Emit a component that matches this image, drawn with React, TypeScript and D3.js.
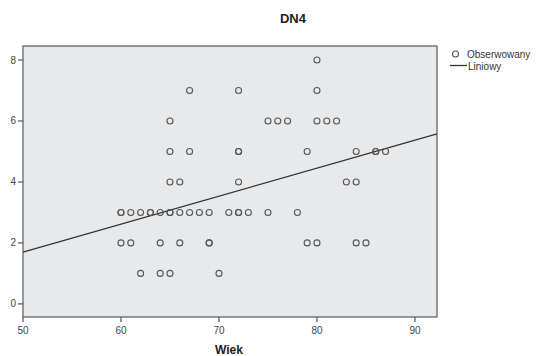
import React from "react";
import * as d3 from "d3";

const ages: number[] = [
  80,
  67, 72, 80,
  65, 75, 76, 77, 80, 81, 82,
  65, 67, 72, 72, 79, 84, 86, 86, 87,
  65, 66, 72, 83, 84,
  60, 60, 61, 62, 63, 63, 64, 65, 65, 66, 67, 68, 69, 71, 72, 72, 73, 75, 78,
  60, 61, 64, 66, 69, 69, 79, 80, 84, 85,
  62, 64, 65, 70,
];
const dn4: number[] = [
  8,
  7, 7, 7,
  6, 6, 6, 6, 6, 6, 6,
  5, 5, 5, 5, 5, 5, 5, 5, 5,
  4, 4, 4, 4, 4,
  3, 3, 3, 3, 3, 3, 3, 3, 3, 3, 3, 3, 3, 3, 3, 3, 3, 3, 3,
  2, 2, 2, 2, 2, 2, 2, 2, 2, 2,
  1, 1, 1, 1,
];
const lineIntercept = -2.885;
const lineSlope = 0.0917;
const xTicks = [50, 60, 70, 80, 90];
const yTicks = [0, 2, 4, 6, 8];

export default function App() {
  const W = 538, H = 356;
  const left = 23, right = 437, top = 46, bottom = 317;
  const x = d3.scaleLinear().domain([50, 92.25]).range([left, right]);
  const y = d3.scaleLinear().domain([-0.43, 8.46]).range([bottom, top]);
  const x0 = 50, x1 = 92.25;
  const line = d3.line<number>().x((d) => x(d)).y((d) => y(lineIntercept + lineSlope * d));
  const font = "'Liberation Sans', Arial, sans-serif";
  return (
    <svg width={W} height={H} style={{ position: "absolute", left: 0, top: 0 }}>
      <rect x={0} y={0} width={W} height={H} fill="#fff" />
      <text x={293} y={23} textAnchor="middle" fontFamily={font} fontWeight="bold" fontSize={13} fill="#222">DN4</text>
      <rect x={left} y={top} width={right - left} height={bottom - top} fill="#e8e9eb" stroke="#666" strokeWidth={1.3} />
      {yTicks.map((t) => (
        <g key={"y" + t}>
          <line x1={left - 5} x2={left} y1={y(t)} y2={y(t)} stroke="#555" strokeWidth={1.2} />
          <text x={left - 7} y={y(t) + 3.5} textAnchor="end" fontFamily={font} fontSize={10} fill="#444">{t}</text>
        </g>
      ))}
      {xTicks.map((t) => (
        <g key={"x" + t}>
          <line x1={x(t)} x2={x(t)} y1={bottom} y2={bottom + 5} stroke="#555" strokeWidth={1.2} />
          <text x={x(t)} y={bottom + 17} textAnchor="middle" fontFamily={font} fontSize={10} fill="#444">{t}</text>
        </g>
      ))}
      <path d={line([x0, x1]) || ""} stroke="#333" strokeWidth={1.3} fill="none" />
      {ages.map((a, i) => (
        <circle key={i} cx={x(a)} cy={y(dn4[i])} r={3} fill="none" stroke="#555" strokeWidth={1.1} />
      ))}
      <text x={229} y={354} textAnchor="middle" fontFamily={font} fontWeight="bold" fontSize={12} fill="#222">Wiek</text>
      <circle cx={455.5} cy={54} r={3} fill="none" stroke="#555" strokeWidth={1.1} />
      <text x={467} y={57.5} fontFamily={font} fontSize={10} fill="#333">Obserwowany</text>
      <line x1={450} x2={467} y1={65.5} y2={65.5} stroke="#333" strokeWidth={1.3} />
      <text x={468} y={69.5} fontFamily={font} fontSize={10} fill="#333">Liniowy</text>
    </svg>
  );
}
